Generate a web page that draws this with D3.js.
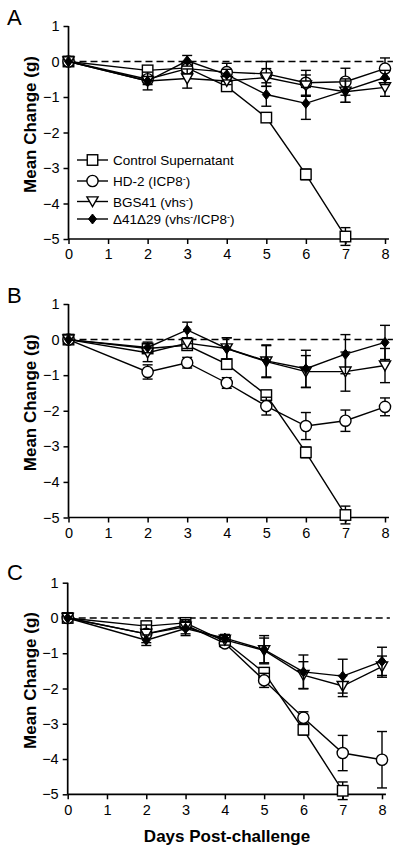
<!DOCTYPE html>
<html>
<head>
<meta charset="utf-8">
<script src="https://cdn.jsdelivr.net/npm/d3@7/dist/d3.min.js"></script>
<style>
html,body{margin:0;padding:0;background:#fff;}
svg{display:block;font-family:"Liberation Sans",Arial,sans-serif;}
</style>
</head>
<body>
<svg id="chart" width="400" height="852"></svg>
<script>
// ---------- DATA ----------
const days = [0, 2, 3, 4, 5, 6, 7, 8];
const controlDays = [0, 2, 3, 4, 5, 6, 7];
const seriesNames = ["Control Supernatant", "HD-2 (ICP8-)", "BGS41 (vhs-)", "Δ41Δ29 (vhs-/ICP8-)"];
const yTicks = [1, 0, -1, -2, -3, -4, -5];
const xTicks = [0, 1, 2, 3, 4, 5, 6, 7, 8];
const panelLetters = ["A", "B", "C"];

// Panel A
const A_control = [0, -0.25, -0.18, -0.7, -1.58, -3.18, -4.93];
const A_controlErr = [0, 0.08, 0.1, 0.08, 0.08, 0.15, 0.25];
const A_hd2 = [0, -0.5, -0.2, -0.3, -0.35, -0.6, -0.57, -0.2];
const A_hd2Err = [0, 0.1, 0.1, 0.25, 0.35, 0.35, 0.38, 0.3];
const A_bgs = [0, -0.55, -0.48, -0.55, -0.45, -0.68, -0.85, -0.73];
const A_bgsErr = [0, 0.1, 0.27, 0.1, 0.25, 0.3, 0.3, 0.25];
const A_d41 = [0, -0.55, 0.02, -0.37, -0.93, -1.18, -0.82, -0.45];
const A_d41Err = [0, 0.25, 0.15, 0.15, 0.33, 0.45, 0.33, 0.2];

// Panel B
const B_control = [0, -0.25, -0.16, -0.69, -1.56, -3.17, -4.93];
const B_controlErr = [0, 0.08, 0.08, 0.08, 0.08, 0.15, 0.25];
const B_hd2 = [0, -0.91, -0.65, -1.22, -1.87, -2.43, -2.28, -1.89];
const B_hd2Err = [0, 0.2, 0.15, 0.15, 0.25, 0.38, 0.3, 0.25];
const B_bgs = [0, -0.37, -0.1, -0.25, -0.62, -0.9, -0.9, -0.73];
const B_bgsErr = [0, 0.25, 0.15, 0.3, 0.45, 0.45, 0.55, 0.48];
const B_d41 = [0, -0.22, 0.27, -0.25, -0.6, -0.82, -0.41, -0.08];
const B_d41Err = [0, 0.15, 0.22, 0.3, 0.45, 0.52, 0.55, 0.48];

// Panel C
const C_control = [0, -0.23, -0.14, -0.66, -1.55, -3.17, -4.9];
const C_controlErr = [0, 0.08, 0.08, 0.08, 0.1, 0.15, 0.25];
const C_hd2 = [0, -0.45, -0.2, -0.72, -1.77, -2.83, -3.83, -4.02];
const C_hd2Err = [0, 0.1, 0.1, 0.1, 0.2, 0.17, 0.5, 0.8];
const C_bgs = [0, -0.45, -0.25, -0.62, -0.92, -1.62, -1.93, -1.38];
const C_bgsErr = [0, 0.25, 0.2, 0.15, 0.35, 0.38, 0.3, 0.3];
const C_d41 = [0, -0.63, -0.3, -0.57, -0.9, -1.53, -1.65, -1.23];
const C_d41Err = [0, 0.15, 0.2, 0.1, 0.4, 0.48, 0.48, 0.4];

// ---------- LAYOUT ----------
const panels = [
  {letter: panelLetters[0], x0: 68.5, x8: 385, yTop: 26, yBot: 239, letterY: 25,
   series: [[controlDays, A_control, A_controlErr], [days, A_hd2, A_hd2Err], [days, A_bgs, A_bgsErr], [days, A_d41, A_d41Err]], legend: true},
  {letter: panelLetters[1], x0: 68.5, x8: 385, yTop: 304, yBot: 517.5, letterY: 303,
   series: [[controlDays, B_control, B_controlErr], [days, B_hd2, B_hd2Err], [days, B_bgs, B_bgsErr], [days, B_d41, B_d41Err]]},
  {letter: panelLetters[2], x0: 67.7, x8: 382, yTop: 582.7, yBot: 794.3, letterY: 580,
   series: [[controlDays, C_control, C_controlErr], [days, C_hd2, C_hd2Err], [days, C_bgs, C_bgsErr], [days, C_d41, C_d41Err]], xTitle: true}
];

const svg = d3.select("#chart");
const lw = 1.4;

function drawMarker(g, type, x, y) {
  if (type === 0) {
    g.append("rect").attr("x", x - 5.25).attr("y", y - 5.25).attr("width", 10.5).attr("height", 10.5)
      .attr("fill", "#fff").attr("stroke", "#000").attr("stroke-width", lw);
  } else if (type === 1) {
    g.append("circle").attr("cx", x).attr("cy", y).attr("r", 5.6)
      .attr("fill", "#fff").attr("stroke", "#000").attr("stroke-width", lw);
  } else if (type === 2) {
    g.append("path").attr("d", `M${x - 5.6},${y - 4.6}L${x + 5.6},${y - 4.6}L${x},${y + 5.2}Z`)
      .attr("fill", "#fff").attr("stroke", "#000").attr("stroke-width", lw);
  } else {
    g.append("path").attr("d", `M${x},${y - 5}L${x + 4},${y}L${x},${y + 5}L${x - 4},${y}Z`)
      .attr("fill", "#000").attr("stroke", "#000").attr("stroke-width", 1);
  }
}

panels.forEach(p => {
  const x = d3.scaleLinear().domain([0, 8]).range([p.x0, p.x8]);
  const y = d3.scaleLinear().domain([1, -5]).range([p.yTop, p.yBot]);
  const g = svg.append("g");

  // panel letter
  g.append("text").attr("x", 7).attr("y", p.letterY).attr("font-size", 22).text(p.letter);

  // y axis title
  g.append("text")
    .attr("transform", `translate(36,${(p.yTop + p.yBot) / 2 - 8}) rotate(-90)`)
    .attr("text-anchor", "middle").attr("font-size", 17).attr("font-weight", "bold")
    .text("Mean Change (g)");

  // axes
  const yAxis = d3.axisLeft(y).tickValues(yTicks).tickSize(5).tickPadding(4).tickFormat(d3.format("d"));
  const xAxis = d3.axisBottom(x).tickValues(xTicks).tickSize(5).tickPadding(5).tickFormat(d3.format("d"));
  const ya = g.append("g").attr("transform", `translate(${p.x0},0)`).call(yAxis);
  const xa = g.append("g").attr("transform", `translate(0,${p.yBot})`).call(xAxis);
  [ya, xa].forEach(a => {
    a.select(".domain").attr("stroke-width", 1.7);
    a.selectAll(".tick line").attr("stroke-width", 1.5);
    a.selectAll("text").attr("font-size", 14.5).attr("font-family", "'Liberation Sans',Arial,sans-serif").attr("fill", "#000");
  });
  ya.select(".domain").attr("d", `M0,${p.yTop}V${p.yBot}`);
  xa.select(".domain").attr("d", `M${p.x0},0H${x(8.1)}`);

  // dashed zero line
  g.append("line").attr("x1", x(0)).attr("x2", x(8.2)).attr("y1", y(0)).attr("y2", y(0))
    .attr("stroke", "#000").attr("stroke-width", 1.5).attr("stroke-dasharray", "7,4");

  // series
  const line = d3.line().x(d => x(d[0])).y(d => y(d[1]));
  p.series.forEach((s, si) => {
    const [ds, vals, errs] = s;
    const pts = ds.map((d, i) => [d, vals[i], errs[i]]);
    const sg = g.append("g");
    sg.append("path").datum(pts).attr("d", line).attr("fill", "none")
      .attr("stroke", "#000").attr("stroke-width", lw);
    pts.forEach(pt => {
      if (pt[2] > 0) {
        const cx = x(pt[0]);
        const t = y(pt[1] + pt[2]), b = y(pt[1] - pt[2]);
        sg.append("line").attr("x1", cx).attr("x2", cx).attr("y1", t).attr("y2", b)
          .attr("stroke", "#000").attr("stroke-width", lw);
        [t, b].forEach(yy => sg.append("line").attr("x1", cx - 5).attr("x2", cx + 5)
          .attr("y1", yy).attr("y2", yy).attr("stroke", "#000").attr("stroke-width", lw));
      }
    });
    pts.forEach(pt => drawMarker(sg, si, x(pt[0]), y(pt[1])));
  });

  // legend
  if (p.legend) {
    const rowsY = [160, 181, 201.5, 219];
    seriesNames.forEach((name, i) => {
      const ly = rowsY[i];
      g.append("line").attr("x1", 77).attr("x2", 108).attr("y1", ly).attr("y2", ly)
        .attr("stroke", "#000").attr("stroke-width", lw);
      drawMarker(g, i, 92.5, ly);
      const t = g.append("text").attr("x", 113).attr("y", ly + 5).attr("font-size", 13.5);
      // '-' directly before ')' or '/' denotes a superscript minus
      const parts = name.split(/(-(?=[)\/]))/).filter(s => s.length);
      parts.forEach(part => {
        if (part === "-") {
          t.append("tspan").attr("font-size", 9).attr("baseline-shift", "45%").text("-");
        } else {
          t.append("tspan").text(part);
        }
      });
    });
  }

  if (p.xTitle) {
    g.append("text").attr("x", 227).attr("y", 842).attr("text-anchor", "middle")
      .attr("font-size", 17).attr("font-weight", "bold").text("Days Post-challenge");
  }
});
</script>
</body>
</html>
